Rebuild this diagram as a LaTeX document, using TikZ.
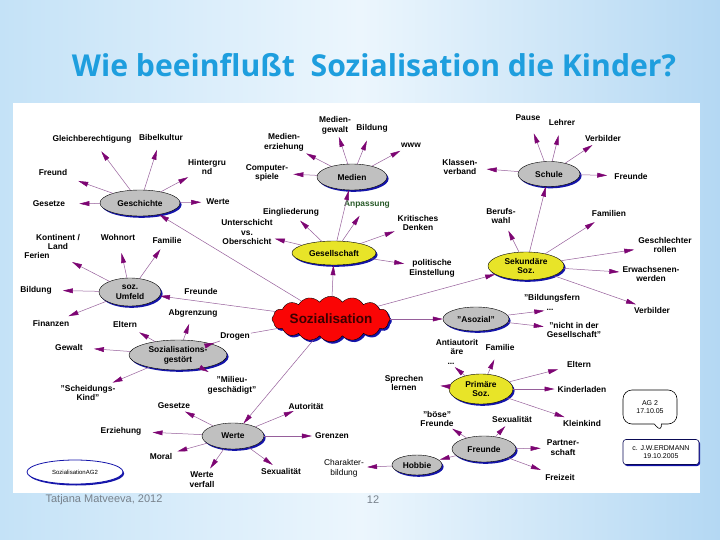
\documentclass[tikz,border=0pt]{standalone}
\usepackage{fontspec}
\setmainfont{Liberation Sans}
\newfontfamily\titlefont{Open Sans}
\usepackage{graphicx}
\usetikzlibrary{shapes.geometric,shapes.symbols,shapes.callouts,shadows,arrows.meta}
\definecolor{lineC}{RGB}{150,95,155}
\definecolor{headC}{RGB}{125,5,115}
\definecolor{ellGray}{RGB}{192,192,192}
\definecolor{yelC}{RGB}{232,228,40}
\definecolor{shadowBlue}{RGB}{20,20,170}
\definecolor{cloudRed}{RGB}{250,5,5}
\definecolor{titleBlue}{RGB}{30,158,222}
\definecolor{bgEdge}{RGB}{196,226,247}
\definecolor{bgMid}{RGB}{236,246,253}
\definecolor{bgEdgeR}{RGB}{180,216,243}
\definecolor{greenTxt}{RGB}{40,90,40}
\definecolor{footGray}{RGB}{120,130,140}
\newcommand\lblfont{\fontsize{8.4}{9.8}\selectfont\bfseries}
\tikzset{
  lbl/.style={font=\lblfont, align=center, inner sep=1pt},
  ell/.style={ellipse, draw=black, line width=0.4pt, fill=ellGray, font=\lblfont,
    align=center, inner sep=0pt,
    drop shadow={shadow xshift=1.6pt, shadow yshift=-1.8pt, fill=shadowBlue, opacity=1}},
  yel/.style={ell, fill=yelC},
  arr/.style={draw=lineC, line width=0.5pt, -{Triangle[length=10pt,width=4.8pt,color=headC]}},
  ln/.style={draw=lineC, line width=0.5pt},
}
\begin{document}
\begin{tikzpicture}[x=1pt,y=-1pt]
\useasboundingbox (0,0) rectangle (720,540);
\shade[left color=bgEdge, right color=bgEdgeR, middle color=bgMid] (0,0) rectangle (720,540);
\fill[white] (13,103) rectangle (700,493);
\node[text=titleBlue, font=\titlefont\bfseries, inner sep=0pt] (title) at (374,65)
  {\resizebox{604pt}{!}{Wie beeinflußt\ \ Sozialisation die Kinder?}};
\node[text=footGray, font=\fontsize{11}{11}\selectfont, inner sep=0pt] (foot) at (104,500) {Tatjana Matveeva, 2012};
\node[text=footGray, font=\fontsize{11}{11}\selectfont, inner sep=0pt] (page) at (373,500) {12};

% main nodes
\node[cloud, cloud puffs=16, cloud puff arc=110, aspect=3.4, draw=black, fill=cloudRed,
  minimum width=118pt, minimum height=36pt, inner sep=0pt, text={rgb,255:red,60;green,0;blue,0},
  font=\fontsize{13.5}{13.5}\selectfont\bfseries,
  drop shadow={shadow xshift=1.8pt, shadow yshift=-2pt, fill=shadowBlue, opacity=1}] (sozial) at (331,319) {Sozialisation};
\node[ell, minimum width=80pt, minimum height=26pt] (gesch) at (140,203) {Geschichte};
\node[ell, minimum width=70pt, minimum height=26pt] (medien) at (352,177) {Medien};
\node[ell, minimum width=62pt, minimum height=25pt] (schule) at (549,174) {Schule};
\node[yel, minimum width=84pt, minimum height=24pt] (gesell) at (334,253) {Gesellschaft};
\node[yel, minimum width=76pt, minimum height=28pt] (sekund) at (526,266) {Sekundäre\\Soz.};
\node[ell, minimum width=62pt, minimum height=28pt] (umfeld) at (130,292) {soz.\\Umfeld};
\node[ell, minimum width=66pt, minimum height=24pt] (asozial) at (476,319) {"Asozial"};
\node[ell, minimum width=98pt, minimum height=30pt] (gestoert) at (178,355) {Sozialisations-\\gestört};
\node[yel, minimum width=64pt, minimum height=30pt] (primaer) at (481,389) {Primäre\\Soz.};
\node[ell, minimum width=62pt, minimum height=26pt] (werte) at (233,436) {Werte};
\node[ell, minimum width=64pt, minimum height=26pt] (freunde) at (484,449) {Freunde};
\node[ell, minimum width=50pt, minimum height=20pt] (hobbie) at (417,465) {Hobbie};
\node[ellipse, draw=shadowBlue, line width=0.8pt, fill=white, minimum width=96pt, minimum height=24pt,
  font=\fontsize{6}{6}\selectfont, inner sep=0pt,
  drop shadow={shadow xshift=1.2pt, shadow yshift=-1.5pt, fill=shadowBlue, opacity=1}] (agell) at (75,472) {SozialisationAG2};
\node[rectangle callout, rounded corners=9pt, draw=black, line width=0.6pt, fill=white,
  callout absolute pointer={(662,433)}, minimum width=54pt, minimum height=34pt,
  font=\fontsize{7}{8}\selectfont, align=center] (callout) at (650,407) {AG 2\\17.10.05};
\node[draw=shadowBlue!50!black, line width=0.6pt, rounded corners=3pt, fill=white, minimum width=76pt,
  minimum height=25pt, font=\fontsize{7}{8}\selectfont, align=center,
  drop shadow={shadow xshift=1.2pt, shadow yshift=-1.5pt, fill=shadowBlue, opacity=1}] (erdmann) at (661,452) {c. J.W.ERDMANN\\19.10.2005};

% labels: Geschichte
\node[lbl] (gleich) at (92,139) {Gleichberechtigung};
\node[lbl] (bibel) at (161,137) {Bibelkultur};
\node[lbl] (freund) at (53,172) {Freund};
\node[lbl] (gesetzeA) at (49,204) {Gesetze};
\node[lbl] (hinter) at (207,167) {Hintergru\\nd};
\node[lbl] (werteG) at (218,202) {Werte};
% Medien
\node[lbl] (mgewalt) at (335,125) {Medien-\\gewalt};
\node[lbl] (bildM) at (372,128) {Bildung};
\node[lbl] (merz) at (284,142) {Medien-\\erziehung};
\node[lbl] (www) at (411,145) {www};
\node[lbl] (comp) at (267,173) {Computer-\\spiele};
% Gesellschaft
\node[lbl, text=greenTxt] (anpass) at (367,205) {Anpassung};
\node[lbl] (eingl) at (291,212) {Eingliederung};
\node[lbl] (krit) at (418,223) {Kritisches\\Denken};
\node[lbl] (unter) at (247,232) {Unterschicht\\vs.\\Oberschicht};
\node[lbl] (polit) at (432,268) {politische\\Einstellung};
% Schule
\node[lbl] (pause) at (528,118) {Pause};
\node[lbl] (lehrer) at (562,122) {Lehrer};
\node[lbl] (verbA) at (603,138) {Verbilder};
\node[lbl] (freundeS) at (631,176) {Freunde};
\node[lbl] (klassen) at (460,167) {Klassen-\\verband};
% Sekundaere
\node[lbl] (beruf) at (501,216) {Berufs-\\wahl};
\node[lbl] (familien) at (609,213) {Familien};
\node[lbl] (geschl) at (665,245) {Geschlechter\\rollen};
\node[lbl] (erwachs) at (651,274) {Erwachsenen-\\werden};
\node[lbl] (verbB) at (652,310) {Verbilder};
% Asozial
\node[lbl] (bildf) at (552,298) {"Bildungsfern};
\node[lbl] (dotsA) at (550,310) {...};
\node[lbl] (nicht) at (574,330) {"nicht in der\\Gesellschaft"};
% Primaere
\node[lbl] (anti) at (457,347) {Antiautorit\\äre};
\node[lbl] (dotsB) at (451,364) {...};
\node[lbl] (famP) at (500,347) {Familie};
\node[lbl] (sprech) at (404,383) {Sprechen\\lernen};
\node[lbl] (eltP) at (579,364) {Eltern};
\node[lbl] (kinder) at (582,389) {Kinderladen};
\node[lbl] (klein) at (582,423) {Kleinkind};
% Freunde / Hobbie
\node[lbl] (sexF) at (512,419) {Sexualität};
\node[lbl] (boese) at (437,419) {"böse"\\Freunde};
\node[lbl] (partner) at (563,448) {Partner-\\schaft};
\node[lbl] (freiz) at (560,477) {Freizeit};
\node[lbl, font=\fontsize{8.4}{9.8}\selectfont] (charak) at (344,468) {Charakter-\\bildung};
% Werte
\node[lbl] (autor) at (306,406) {Autorität};
\node[lbl] (grenzen) at (332,436) {Grenzen};
\node[lbl] (sexW) at (281,471) {Sexualität};
\node[lbl] (gesetzeB) at (174,406) {Gesetze};
\node[lbl] (erzieh) at (121,431) {Erziehung};
\node[lbl] (moral) at (161,456) {Moral};
\node[lbl] (wverf) at (202,480) {Werte\\verfall};
% Sozialisationsgestoert
\node[lbl] (abgr) at (193,313) {Abgrenzung};
\node[lbl] (drogen) at (235,336) {Drogen};
\node[lbl] (eltG) at (125,324) {Eltern};
\node[lbl] (gewalt) at (69,347) {Gewalt};
\node[lbl] (scheid) at (88,393) {"Scheidungs-\\Kind"};
\node[lbl] (milieu) at (232,385) {"Milieu-\\geschädigt"};
% Umfeld
\node[lbl] (kont) at (58,242) {Kontinent /\\Land};
\node[lbl] (ferien) at (37,255) {Ferien};
\coordinate (kontTip) at (72,262);
\node[lbl] (wohn) at (118,237) {Wohnort};
\node[lbl] (famU) at (167,240) {Familie};
\node[lbl] (bildU) at (36,290) {Bildung};
\node[lbl] (finanz) at (51,323) {Finanzen};
\node[lbl] (freundeU) at (201,291) {Freunde};

% connectors: Sozialisation
\draw[arr] (sozial) -- (gesch);
\draw[arr] (sozial) -- (gesell);
\draw[arr] (sozial) -- (sekund);
\draw[arr] (sozial) -- (asozial);
\draw[arr] (sozial) -- (umfeld);
\draw[arr] (sozial) -- (werte);
\draw[ln] (sozial) -- (drogen);
\draw[ln] (drogen) -- (gestoert);
\draw[arr] (gesell) -- (medien);
\draw[arr] (sekund) -- (schule);
% Geschichte
\draw[arr, shorten >=9pt] (gesch) -- (gleich);
\draw[arr, shorten >=9pt] (gesch) -- (bibel);
\draw[arr, shorten >=14pt] (gesch) -- (freund);
\draw[arr, shorten >=13pt] (gesch) -- (gesetzeA);
\draw[arr, shorten >=2pt] (gesch) -- (hinter);
\draw[arr, shorten >=4pt] (gesch) -- (werteG);
% Medien
\draw[arr, shorten >=2pt] (medien) -- (mgewalt);
\draw[arr, shorten >=8pt] (medien) -- (bildM);
\draw[arr, shorten >=3pt] (medien) -- (merz);
\draw[arr, shorten >=5pt] (medien) -- (www);
\draw[arr, shorten >=4pt] (medien) -- (comp);
% Gesellschaft
\draw[arr, shorten >=7pt] (gesell) -- (anpass);
\draw[arr, shorten >=5pt] (gesell) -- (eingl);
\draw[arr, shorten >=2pt] (gesell) -- (krit);
\draw[arr, shorten >=1pt] (gesell) -- (unter);
\draw[arr, shorten >=4pt] (gesell) -- (polit);
% Schule
\draw[arr, shorten >=12pt] (schule) -- (pause);
\draw[arr, shorten >=9pt] (schule) -- (lehrer);
\draw[arr, shorten >=5pt] (schule) -- (verbA);
\draw[arr, shorten >=6pt] (schule) -- (freundeS);
\draw[arr, shorten >=8pt] (schule) -- (klassen);
% Sekundaere
\draw[arr, shorten >=6pt] (sekund) -- (beruf);
\draw[arr, shorten >=9pt] (sekund) -- (familien);
\draw[arr, shorten >=3pt] (sekund) -- (geschl);
\draw[arr, shorten >=2pt] (sekund) -- (erwachs);
\draw[arr, shorten >=4pt] (sekund) -- (verbB);
% Asozial
\draw[arr, shorten >=1pt] (asozial) -- (dotsA);
\draw[arr, shorten >=2pt] (asozial) -- (nicht);
% Primaere
\draw[arr, shorten >=2pt] (primaer) -- (dotsB);
\draw[arr, shorten >=9pt] (primaer) -- (famP);
\draw[arr, shorten >=16pt] (primaer) -- (sprech);
\draw[arr, shorten >=8pt] (primaer) -- (eltP);
\draw[arr, shorten >=2pt] (primaer) -- (kinder);
\draw[arr, shorten >=5pt] (primaer) -- (klein);
% Freunde, Hobbie
\draw[arr, shorten >=4pt] (freunde) -- (sexF);
\draw[arr, shorten >=1pt] (freunde) -- (boese);
\draw[arr, shorten >=5pt] (freunde) -- (partner);
\draw[arr, shorten >=8pt] (freunde) -- (freiz);
\draw[arr, shorten >=1pt] (freunde) -- (hobbie);
\draw[arr, shorten >=2pt] (hobbie) -- (charak);
% Werte
\draw[arr, shorten >=2pt] (werte) -- (autor);
\draw[arr, shorten >=2pt] (werte) -- (grenzen);
\draw[arr, shorten >=3pt] (werte) -- (sexW);
\draw[arr, shorten >=3pt] (werte) -- (gesetzeB);
\draw[arr, shorten >=10pt] (werte) -- (erzieh);
\draw[arr, shorten >=4pt] (werte) -- (moral);
\draw[arr, shorten >=3pt] (werte) -- (wverf);
% Sozialisationsgestoert
\draw[arr, shorten >=6pt] (gestoert) -- (abgr);
\draw[arr, shorten >=6pt] (gestoert) -- (drogen);
\draw[arr, shorten >=8pt] (gestoert) -- (eltG);
\draw[arr, shorten >=10pt] (gestoert) -- (gewalt);
\draw[arr, shorten >=3pt] (gestoert) -- (scheid);
\draw[arr, shorten >=6pt] (gestoert) -- (milieu);
% Umfeld
\draw[arr] (umfeld) -- (kontTip);
\draw[arr, shorten >=12pt] (umfeld) -- (wohn);
\draw[arr, shorten >=6pt] (umfeld) -- (famU);
\draw[arr, shorten >=10pt] (umfeld) -- (bildU);
\draw[arr, shorten >=7pt] (umfeld) -- (finanz);
\end{tikzpicture}
\end{document}
